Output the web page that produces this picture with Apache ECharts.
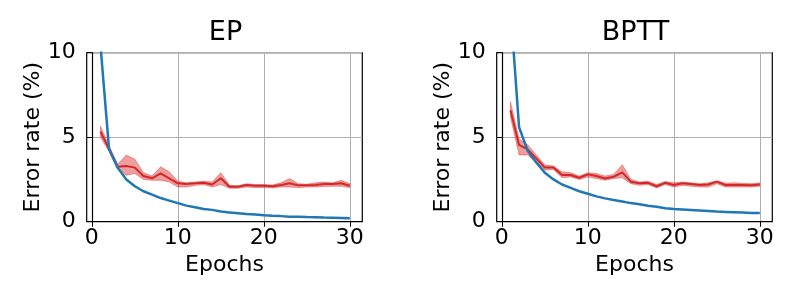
<!DOCTYPE html>
<html><head><meta charset="utf-8">
<script src="https://cdn.jsdelivr.net/npm/echarts@6/dist/echarts.min.js"></script>
<style>html,body{margin:0;padding:0;background:#fff}#c{width:800px;height:300px}</style>
</head><body><div id="c"></div>
<script>
const epochs = Array.from({length:30},(_,i)=>i+1);
const titles = ['EP','BPTT'];
const xTicks = [0,10,20,30];
const yTicks = [0,5,10];
// EP
const epTrain = [10.45,4.3,3.2,2.5,2.1,1.8,1.6,1.4,1.25,1.1,0.95,0.85,0.75,0.7,0.6,0.55,0.5,0.45,0.42,0.38,0.35,0.33,0.3,0.3,0.28,0.27,0.25,0.24,0.22,0.2];
const epTest = [5.33,4.3,3.25,3.3,3.2,2.7,2.57,2.86,2.57,2.27,2.23,2.27,2.3,2.2,2.57,2.07,2.07,2.17,2.13,2.13,2.1,2.17,2.27,2.15,2.15,2.17,2.23,2.23,2.27,2.13];
const epTestHi = [5.65,4.5,3.4,3.95,3.7,2.9,2.7,3.25,2.95,2.4,2.3,2.35,2.4,2.35,2.9,2.15,2.13,2.25,2.2,2.2,2.17,2.3,2.55,2.25,2.22,2.3,2.35,2.3,2.45,2.25];
const epTestLo = [5.0,4.15,3.1,2.75,2.85,2.5,2.45,2.45,2.35,2.05,2.05,2.15,2.2,2.05,2.2,1.98,1.98,2.05,2.02,2.02,2.0,2.05,2.05,2.02,2.05,2.05,2.08,2.1,2.1,2.02];
// BPTT
const bpTrain = [12.7,5.6,4.2,3.5,2.9,2.5,2.2,2.0,1.8,1.65,1.5,1.38,1.28,1.2,1.1,1.03,0.95,0.88,0.8,0.75,0.72,0.69,0.66,0.63,0.6,0.58,0.56,0.54,0.52,0.52];
const bpTest = [6.6,4.54,4.28,3.75,3.2,3.2,2.76,2.76,2.6,2.8,2.7,2.56,2.66,2.92,2.37,2.27,2.3,2.1,2.3,2.17,2.27,2.23,2.17,2.2,2.37,2.17,2.17,2.17,2.15,2.2];
const bpTestHi = [7.1,4.9,4.55,3.95,3.35,3.3,2.95,2.9,2.7,2.9,2.85,2.7,2.8,3.37,2.5,2.35,2.4,2.2,2.38,2.3,2.35,2.3,2.25,2.3,2.42,2.28,2.3,2.27,2.25,2.3];
const bpTestLo = [6.2,3.95,3.95,3.5,3.05,3.1,2.6,2.65,2.5,2.65,2.55,2.45,2.55,2.6,2.25,2.15,2.2,2.0,2.2,2.05,2.15,2.1,2.05,2.05,2.25,2.05,2.05,2.05,2.05,2.1];

const FONT = 'DejaVu Sans';
const BLUE = '#1f77b4', RED = '#d62728';
const pairs = a => epochs.map((e,i)=>[e,a[i]]);

const lefts = [86.7, 496.7];
const grids = lefts.map(l=>({left:l, top:52.7, width:275.6, height:169, show:true, borderColor:'#000', borderWidth:1.2, backgroundColor:'transparent'}));
const xAxes = lefts.map((l,i)=>({
  type:'value', gridIndex:i, min:-0.6, max:31.45,
  name:'Epochs', nameLocation:'middle', nameGap:31,
  nameTextStyle:{fontFamily:FONT,fontSize:22,color:'#000'},
  axisLine:{show:true,lineStyle:{color:'#000',width:1.2}},
  axisTick:{show:true,length:5,lineStyle:{color:'#000',width:1},customValues:xTicks},
  axisLabel:{fontFamily:FONT,fontSize:22,color:'#000',margin:6,customValues:xTicks},
  splitLine:{show:true,lineStyle:{color:'#b0b0b0',width:1}}
}));
const yAxes = lefts.map((l,i)=>({
  type:'value', gridIndex:i, min:0, max:10, interval:5,
  name:'Error rate (%)', nameLocation:'middle', nameGap:42,
  nameTextStyle:{fontFamily:FONT,fontSize:22,color:'#000'},
  axisLine:{show:true,lineStyle:{color:'#000',width:1.2}},
  axisTick:{show:true,length:5,lineStyle:{color:'#000',width:1}},
  axisLabel:{fontFamily:FONT,fontSize:22,color:'#000',margin:11},
  splitLine:{show:true,lineStyle:{color:'#b0b0b0',width:1}}
}));

const sets = [
  {train:epTrain,test:epTest,hi:epTestHi,lo:epTestLo},
  {train:bpTrain,test:bpTest,hi:bpTestHi,lo:bpTestLo}
];
const series = [];
sets.forEach((s,i)=>{
  const bandData = epochs.map((e,k)=>[e,s.lo[k],s.hi[k]]);
  series.push({type:'custom',xAxisIndex:i,yAxisIndex:i,data:bandData,silent:true,z:1,
    encode:{x:0,y:[1,2]},
    clip:true,
    renderItem:(params,api)=>{
      if(params.dataIndex!==0) return null;
      const top=[], bot=[];
      for(let k=0;k<bandData.length;k++){
        top.push(api.coord([bandData[k][0],bandData[k][2]]));
        bot.push(api.coord([bandData[k][0],bandData[k][1]]));
      }
      const pts = top.concat(bot.reverse());
      return {type:'polygon',shape:{points:pts},
        style:{fill:'rgba(214,39,40,0.45)',stroke:'rgba(214,39,40,0.5)',lineWidth:0.8}};
    }});
  series.push({type:'line',xAxisIndex:i,yAxisIndex:i,data:pairs(s.test),symbol:'none',
    lineStyle:{color:RED,width:2},z:2});
  series.push({type:'line',xAxisIndex:i,yAxisIndex:i,data:pairs(s.train),symbol:'none',
    lineStyle:{color:BLUE,width:2.5},z:3});
});

const chart = echarts.init(document.getElementById('c'),null,{renderer:'canvas'});
chart.setOption({
  animation:false,
  backgroundColor:'#fff',
  title: titles.map((t,i)=>({text:t,left:lefts[i]+137.8+1,top:19,textAlign:'center',padding:0,
    textStyle:{fontFamily:FONT,fontSize:27,fontWeight:'normal',color:'#000'}})),
  grid:grids, xAxis:xAxes, yAxis:yAxes, series:series
});
</script></body></html>
